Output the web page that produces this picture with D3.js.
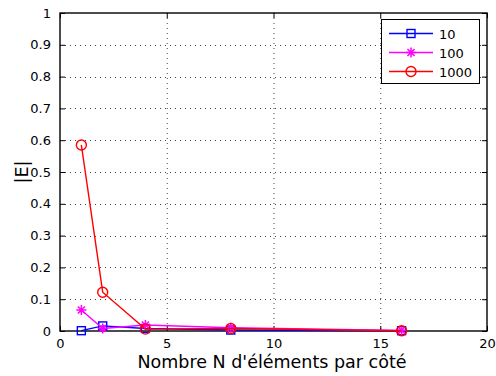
<!DOCTYPE html>
<html>
<head>
<meta charset="utf-8">
<script src="https://cdn.jsdelivr.net/npm/d3@7"></script>
<style>
  html, body { margin: 0; padding: 0; background: #fff; }
  svg { display: block; font-family: "DejaVu Sans", sans-serif; }
</style>
</head>
<body>
<svg id="chart" width="496" height="376"></svg>
<script>
// Error |E| against number of elements per side, for three parameter values
const nElements = [1, 2, 4, 8, 16];
const err10   = [0.001, 0.016, 0.008, 0.003, 0.001];
const err100  = [0.066, 0.008, 0.019, 0.010, 0.002];
const err1000 = [0.585, 0.122, 0.006, 0.008, 0.001];
const seriesNames = ["10", "100", "1000"];
const xTicks = [0, 5, 10, 15, 20];
const yTicks = [0, 0.1, 0.2, 0.3, 0.4, 0.5, 0.6, 0.7, 0.8, 0.9, 1];

const series = [
  { name: seriesNames[0], values: err10,   color: "#0000ff", marker: "square" },
  { name: seriesNames[1], values: err100,  color: "#ff00ff", marker: "star" },
  { name: seriesNames[2], values: err1000, color: "#ff0000", marker: "circle" }
];

const svg = d3.select("#chart");
const plotL = 60, plotR = 487, plotT = 13, plotB = 331;

const x = d3.scaleLinear().domain([0, 20]).range([plotL, plotR]);
const y = d3.scaleLinear().domain([0, 1]).range([plotB, plotT]);

// dotted grid
const grid = svg.append("g").attr("stroke", "#444").attr("stroke-width", 1)
  .attr("stroke-dasharray", "1,4");
grid.selectAll(".gx").data(xTicks.slice(1, -1)).join("line")
  .attr("x1", d => x(d) + 0.5).attr("x2", d => x(d) + 0.5)
  .attr("y1", plotT).attr("y2", plotB);
grid.selectAll(".gy").data(yTicks.slice(1, -1)).join("line")
  .attr("y1", d => Math.round(y(d)) + 0.5).attr("y2", d => Math.round(y(d)) + 0.5)
  .attr("x1", plotL).attr("x2", plotR);

// axes with inward ticks
const xAxis = d3.axisBottom(x).tickValues(xTicks).tickSizeInner(-5).tickSizeOuter(0).tickPadding(8);
const yAxis = d3.axisLeft(y).tickValues(yTicks).tickSizeInner(-5).tickSizeOuter(0).tickPadding(9)
  .tickFormat(d3.format("~g"));
const gx = svg.append("g").attr("transform", `translate(0,${plotB})`).call(xAxis);
const gy = svg.append("g").attr("transform", `translate(${plotL},0)`).call(yAxis);
[gx, gy].forEach(g => {
  g.select(".domain").remove();
  g.selectAll("text").attr("font-size", 13).attr("fill", "#000").attr("font-family", "DejaVu Sans, sans-serif");
  g.selectAll("line").attr("stroke", "#000");
});
// ticks on top and right edges
const gxTop = svg.append("g").attr("transform", `translate(0,${plotT})`)
  .call(d3.axisTop(x).tickValues(xTicks).tickSizeInner(-5).tickSizeOuter(0).tickFormat(""));
const gyRight = svg.append("g").attr("transform", `translate(${plotR},0)`)
  .call(d3.axisRight(y).tickValues(yTicks).tickSizeInner(-5).tickSizeOuter(0).tickFormat(""));
[gxTop, gyRight].forEach(g => { g.select(".domain").remove(); g.selectAll("line").attr("stroke", "#000"); });

// frame
svg.append("rect").attr("x", plotL).attr("y", plotT)
  .attr("width", plotR - plotL).attr("height", plotB - plotT)
  .attr("fill", "none").attr("stroke", "#000").attr("stroke-width", 1.4);

function drawMarker(g, type, color, cx, cy) {
  if (type === "square") {
    g.append("rect").attr("x", cx - 4).attr("y", cy - 4).attr("width", 8).attr("height", 8)
      .attr("fill", "none").attr("stroke", color).attr("stroke-width", 1.4);
  } else if (type === "circle") {
    g.append("circle").attr("cx", cx).attr("cy", cy).attr("r", 5)
      .attr("fill", "none").attr("stroke", color).attr("stroke-width", 1.4);
  } else {
    const r = 5;
    const path = d3.path();
    [0, 45, 90, 135].forEach(a => {
      const t = a * Math.PI / 180;
      path.moveTo(cx - r * Math.cos(t), cy - r * Math.sin(t));
      path.lineTo(cx + r * Math.cos(t), cy + r * Math.sin(t));
    });
    g.append("path").attr("d", path.toString()).attr("stroke", color).attr("stroke-width", 1.5).attr("fill", "none");
  }
}

const line = d3.line().x(d => x(d[0])).y(d => y(d[1]));
series.forEach(s => {
  const pts = nElements.map((n, i) => [n, s.values[i]]);
  const g = svg.append("g");
  g.append("path").attr("d", line(pts)).attr("fill", "none")
    .attr("stroke", s.color).attr("stroke-width", 1.4);
  pts.forEach(p => drawMarker(g, s.marker, s.color, x(p[0]), y(p[1])));
});

// legend
const lg = svg.append("g");
lg.append("rect").attr("x", 381.5).attr("y", 19.5).attr("width", 98).attr("height", 64)
  .attr("fill", "#fff").attr("stroke", "#000").attr("stroke-width", 1);
series.forEach((s, i) => {
  const ly = 33.5 + i * 19;
  lg.append("line").attr("x1", 389).attr("x2", 433).attr("y1", ly).attr("y2", ly)
    .attr("stroke", s.color).attr("stroke-width", 1.4);
  drawMarker(lg, s.marker, s.color, 411, ly);
  lg.append("text").attr("x", 439).attr("y", ly + 5).attr("font-size", 13).text(s.name);
});

// axis titles
svg.append("text").attr("x", 272).attr("y", 368).attr("text-anchor", "middle")
  .attr("font-size", 17.5).text("Nombre N d'éléments par côté");
svg.append("text").attr("transform", `translate(28,${(plotT + plotB) / 2}) rotate(-90)`)
  .attr("text-anchor", "middle").attr("font-size", 17.5).text("|E|");
</script>
</body>
</html>
